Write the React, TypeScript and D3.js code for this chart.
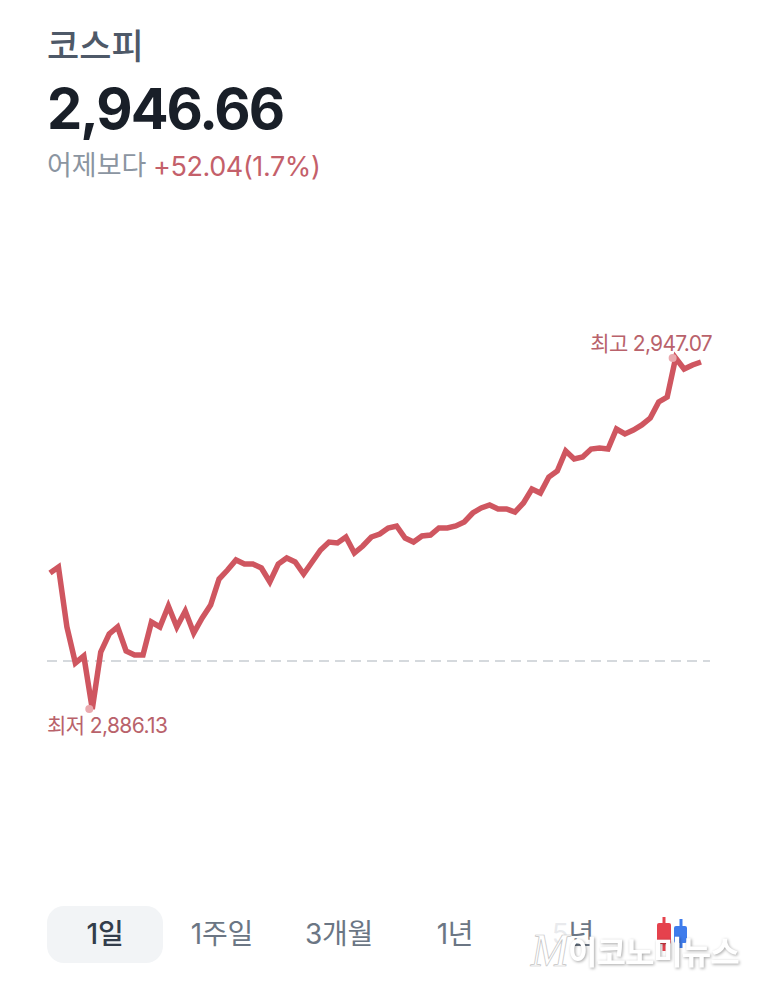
import React from "react";
import * as d3 from "d3";

const WIDTH = 760;
const HEIGHT = 990;
const FONT = 'Inter, "Noto Sans CJK KR", sans-serif';

const TITLE = "코스피";
const CURRENT = "2,946.66";
const CHANGE_LABEL = "어제보다";
const CHANGE_VALUE = "+52.04(1.7%)";
const PREV_CLOSE = 2894.45;
const LOW_LABEL = "최저 2,886.13";
const HIGH_LABEL = "최고 2,947.07";
const PERIODS = ["1일", "1주일", "3개월", "1년", "5년"];
const PERIOD_X = [105, 222, 339, 455, 573];

const prices = [
  2909.74, 2910.78, 2900.37, 2894.12, 2895.33, 2886.13, 2896.03, 2899.15, 2900.37, 2896.2,
  2895.51, 2895.51, 2901.23, 2900.37, 2904.01, 2900.37, 2903.14, 2899.33, 2901.93, 2904.19,
  2908.7, 2910.26, 2912.0, 2911.3, 2911.3, 2910.61, 2908.18, 2911.3, 2912.35, 2911.65,
  2909.57, 2911.65, 2913.74, 2915.12, 2914.95, 2915.99, 2913.21, 2914.43, 2915.99, 2916.51,
  2917.56, 2917.9, 2915.82, 2915.12, 2916.17, 2916.34, 2917.56, 2917.56, 2917.9, 2918.6,
  2920.16, 2921.03, 2921.55, 2920.85, 2920.85, 2920.33, 2921.9, 2924.33, 2923.63, 2926.41,
  2927.45, 2930.92, 2929.54, 2929.88, 2931.27, 2931.44, 2931.27, 2934.74, 2933.88, 2934.57,
  2935.44, 2936.65, 2939.43, 2940.3, 2947.07, 2945.16, 2945.86, 2946.38,
];

const x = d3.scaleLinear().domain([0, prices.length - 1]).range([50, 701]);
const y = d3.scaleLinear().domain([2886.13, 2947.07]).range([709, 358]);

const line = d3.line<number>()
  .x((_, i) => x(i))
  .y(d => y(d));

export default function App() {
  const lowIdx = d3.minIndex(prices);
  const highIdx = d3.maxIndex(prices);

  return (
    <svg
      width={WIDTH}
      height={HEIGHT}
      style={{ position: "absolute", left: 0, top: 0, background: "#fff" }}
      fontFamily={FONT}
    >
      <text x={47} y={59} fontSize={35} fontWeight={500} fill="#4e5968">{TITLE}</text>
      <text x={47} y={129} fontSize={56} fontWeight={700} fill="#191f28" letterSpacing={-2}>{CURRENT}</text>
      <text x={47} y={175} fontSize={27} fill="#8b95a1">{CHANGE_LABEL}</text>
      <text x={153} y={176} fontSize={27} fill="#c4606a" letterSpacing={-0.4}>{CHANGE_VALUE}</text>

      <line
        x1={47} x2={710}
        y1={y(PREV_CLOSE)} y2={y(PREV_CLOSE)}
        stroke="#d5d9dd" strokeWidth={2} strokeDasharray="10 6"
      />
      <path d={line(prices) || ""} fill="none" stroke="#cf5660" strokeWidth={5.5} strokeLinejoin="miter" />

      <circle cx={x(lowIdx) - 3} cy={y(prices[lowIdx])} r={4} fill="#eaa9ae" />
      <circle cx={x(highIdx) - 3} cy={y(prices[highIdx])} r={4} fill="#eaa9ae" />
      <text x={47} y={733} fontSize={21} fill="#b9626b" letterSpacing={-0.6}>{LOW_LABEL}</text>
      <text x={712} y={351} fontSize={21} fill="#b9626b" letterSpacing={-0.7} textAnchor="end">{HIGH_LABEL}</text>

      <rect x={47} y={906} width={116} height={57} rx={17} fill="#f2f4f6" />
      {PERIODS.map((p, i) => (
        <text
          key={p}
          x={PERIOD_X[i]}
          y={944}
          fontSize={28}
          textAnchor="middle"
          letterSpacing={-0.2}
          fontWeight={i === 0 ? 500 : 400}
          fill={i === 0 ? "#333d4b" : "#6b7684"}
        >
          {p}
        </text>
      ))}

      <g>
        <line x1={664} x2={664} y1={917} y2={951} stroke="#e5424d" strokeWidth={3} />
        <rect x={657} y={923} width={14} height={21} rx={2} fill="#e5424d" />
        <line x1={681} x2={681} y1={919} y2={948} stroke="#3f7cec" strokeWidth={3} />
        <rect x={674} y={926} width={13} height={17} rx={2} fill="#3f7cec" />
      </g>

      <g>
        <rect x={515} y={917} width={53} height={51} fill="#fff" opacity={0.85} />
        <text x={550} y={966} fontFamily="Liberation Serif" fontStyle="italic" fontSize={46} fill="#fff" stroke="#c4c4c4" strokeWidth={0.7} textAnchor="middle">M</text>
        <text
          x={568} y={964}
          fontSize={32} fontWeight={700} fill="#fff" letterSpacing={-1}
          style={{ filter: "drop-shadow(1px 1px 1.5px rgba(0,0,0,0.35))" }}
        >
          이코노미뉴스
        </text>
      </g>
    </svg>
  );
}
